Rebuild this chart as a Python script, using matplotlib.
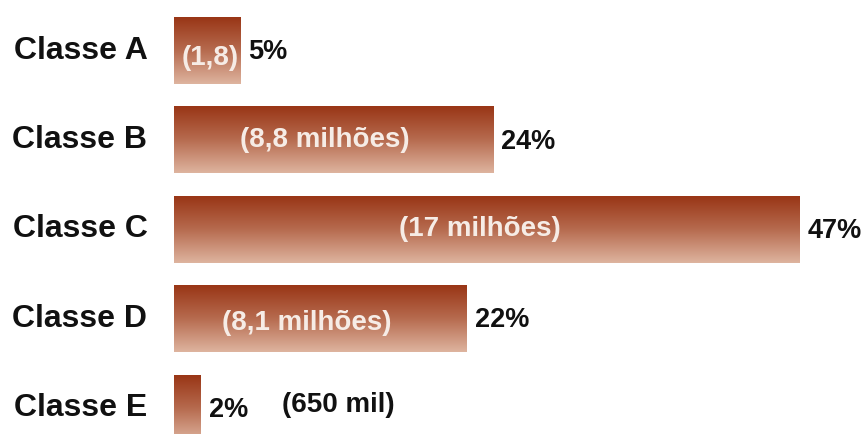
import numpy as np
import matplotlib.pyplot as plt
from matplotlib.colors import LinearSegmentedColormap

plt.rcParams['font.family'] = ['Liberation Sans', 'DejaVu Sans']

categories = ["Classe A", "Classe B", "Classe C", "Classe D", "Classe E"]
shares = [5, 24, 47, 22, 2]
people = ["(1,8)", "(8,8 milhões)", "(17 milhões)", "(8,1 milhões)", "(650 mil)"]

fig = plt.figure(figsize=(8.66, 4.34), dpi=100)
ax = fig.add_axes([174 / 866, 0, 1 - 174 / 866, 1])

grad = LinearSegmentedColormap.from_list("bar", ["#983414", "#b66a4e", "#deb49f"])
gradient = np.linspace(0, 1, 256).reshape(-1, 1)

y = np.arange(len(categories))
bars = ax.barh(y, shares, height=0.75, color="none", edgecolor="none")

for bar in bars:
    x0, y0 = bar.get_x(), bar.get_y()
    w, h = bar.get_width(), bar.get_height()
    im = ax.imshow(gradient, cmap=grad, aspect="auto",
                   extent=[x0, x0 + w, y0 + h, y0], zorder=2)
    im.set_clip_path(bar)

ax.set_xlim(0, 52)
ax.set_ylim(4.29, -0.565)
ax.axis("off")

# small nudges so the inner labels sit where the original put them
shift_x = [0.2, -0.7, -0.5, -1.0]
shift_y = [0.08, 0.0, 0.0, 0.05]

for i, (cat, val, ppl) in enumerate(zip(categories, shares, people)):
    ax.text(-2, i, cat, ha="right", va="center", fontsize=23, fontweight="bold",
            color="#111111")
    ax.text(val + 0.6, i + 0.02, f"{val}%", ha="left", va="center",
            fontsize=19.5, fontweight="bold", color="#111111")
    if i < 4:
        ax.text(val / 2 + shift_x[i], i + shift_y[i], ppl,
                ha="center", va="center", fontsize=20, fontweight="bold",
                color="#f6ece6", zorder=3)
    else:
        ax.text(8.1, i - 0.03, ppl, ha="left", va="center", fontsize=20,
                fontweight="bold", color="#111111")

fig.savefig("out.png", dpi=100, facecolor="white")
